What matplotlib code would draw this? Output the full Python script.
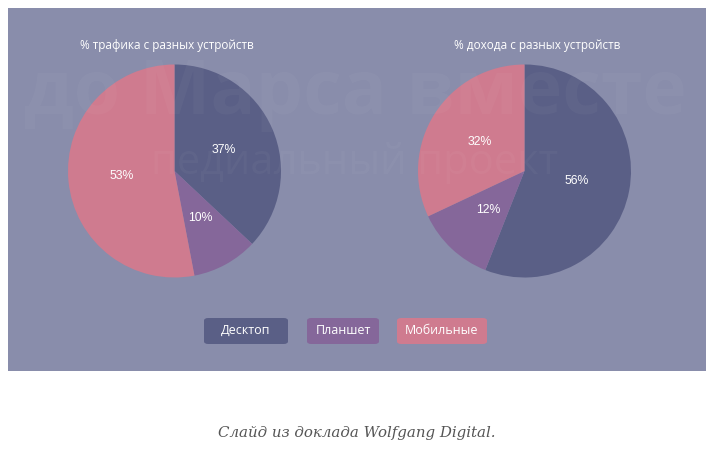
import matplotlib.pyplot as plt
from matplotlib.patches import Rectangle, FancyBboxPatch

# data
devices = ["Десктоп", "Планшет", "Мобильные"]
traffic = [37, 10, 53]
revenue = [56, 12, 32]
titles = ["% трафика с разных устройств", "% дохода с разных устройств"]
caption = "Слайд из доклада Wolfgang Digital."

colors = ["#5a5f86", "#85679a", "#cf7b8f"]
bg = "#898dab"

W, H = 714, 449
fig = plt.figure(figsize=(W / 100, H / 100), dpi=100, facecolor="white")

def fx(x):
    return x / W

def fy(y):
    return 1 - y / H

# slide background
fig.patches.append(Rectangle((fx(8), fy(371)), fx(698) - fx(0), fy(8) - fy(371),
                             transform=fig.transFigure, facecolor=bg, edgecolor="none", zorder=-5))

def draw_pie(values, cx, cy, r, title, tx):
    ax = fig.add_axes([fx(cx - r), fy(cy + r), 2 * r / W, 2 * r / H])
    ax.patch.set_visible(False)
    ax.pie(values, colors=colors, startangle=90, counterclock=False,
           autopct=lambda p: f"{round(p)}%", pctdistance=0.5,
           textprops=dict(color="white", fontsize=8.8, family="Liberation Sans"))
    ax.set_xlim(-1, 1)
    ax.set_ylim(-1, 1)
    ax.set_aspect("equal")
    ax.axis("off")
    fig.text(fx(tx), fy(45), title, ha="center", va="center", color="white",
             fontsize=8.5, family="Open Sans")

draw_pie(traffic, 174.5, 171, 106.5, titles[0], 167)
draw_pie(revenue, 524.5, 171, 106.5, titles[1], 537)

# watermark
fig.text(fx(355), fy(94), "до Марса вместе", ha="center", va="center", color="white",
         alpha=0.03, fontsize=54, weight="bold", family="Open Sans", zorder=10)
fig.text(fx(355), fy(163), "педиальный проект", ha="center", va="center", color="white",
         alpha=0.03, fontsize=30, family="Open Sans", zorder=10)

# legend boxes
boxes = [(204, 288), (307, 379), (397, 487)]
for (x0, x1), name, c in zip(boxes, devices, colors):
    fig.patches.append(FancyBboxPatch((fx(x0), fy(344)), fx(x1) - fx(x0), fy(318) - fy(344),
                                      boxstyle="round,pad=0,rounding_size=0.006",
                                      transform=fig.transFigure, facecolor=c,
                                      edgecolor="none", zorder=1))
    fig.text(fx((x0 + x1) / 2), fy(330.5), name, ha="center", va="center", color="white",
             fontsize=9, family="Open Sans", zorder=2)

fig.text(0.5, fy(433), caption, ha="center", va="center", color="#555555",
         fontsize=10.8, style="italic", family="DejaVu Serif")

fig.savefig("out.png", dpi=100, facecolor="white")
